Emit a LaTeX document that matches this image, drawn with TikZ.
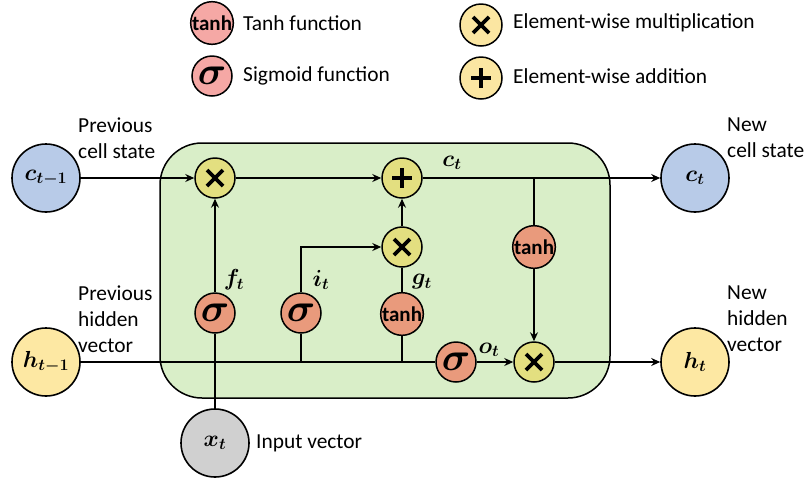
\documentclass[tikz,border=0pt]{standalone}
\usepackage{fontspec}
\setmainfont{Carlito}
\usepackage{amsmath}
\usepackage{bm}
\usetikzlibrary{arrows.meta}
\definecolor{boxgreen}{HTML}{D9EEC8}
\definecolor{cblue}{HTML}{B8CBE8}
\definecolor{hyellow}{HTML}{FDE8A3}
\definecolor{xgrey}{HTML}{D0D0D0}
\definecolor{gatered}{HTML}{E99A7C}
\definecolor{opyellow}{HTML}{E3DF80}
\definecolor{legred}{HTML}{F5A8A5}
\definecolor{legyellow}{HTML}{FBE6A2}
\tikzset{
  ln/.style={line width=1.5pt},
  arr/.style={line width=1.5pt,-{Stealth[length=9pt,width=8pt,inset=3pt]}},
  bigc/.style={circle,draw,line width=1.6pt,minimum size=68pt,inner sep=0pt,font=\fontsize{20.74}{24}\selectfont},
  gate/.style={circle,draw,line width=1.5pt,fill=gatered,minimum size=40pt,inner sep=0pt},
  op/.style={circle,draw,line width=1.5pt,fill=opyellow,minimum size=40pt,inner sep=0pt},
  mulop/.style={op,path picture={
      \draw[line width=3.6pt] ([shift={(-8,-8)}]path picture bounding box.center) -- ++(16,16);
      \draw[line width=3.6pt] ([shift={(-8,8)}]path picture bounding box.center) -- ++(16,-16);}},
  plusop/.style={op,path picture={
      \draw[line width=3.6pt] ([shift={(-10,0)}]path picture bounding box.center) -- ++(20,0);
      \draw[line width=3.6pt] ([shift={(0,-10)}]path picture bounding box.center) -- ++(0,20);}},
  lbl/.style={font=\fontsize{21.4}{26}\selectfont,align=left,anchor=west,inner sep=0pt},
  mlbl/.style={font=\fontsize{20.74}{22}\selectfont,inner sep=0pt},
}
\newcommand{\sig}{\fontsize{20.74}{22}\selectfont\scalebox{1.9}{$\bm{\sigma}$}}
\newcommand{\tnh}{\fontsize{21}{21}\selectfont\bfseries tanh}
\newcommand{\mth}[1]{\scalebox{1.12}{$\bm{#1}$}}
\begin{document}
\begin{tikzpicture}[x=1pt,y=-1pt]
\useasboundingbox (0,0) rectangle (805,483);
% legend
\node[gate,fill=legred,minimum size=39pt] (lt) at (212,23) {\tnh};
\node[lbl] (ltt) at (243,23) {Tanh function};
\node[gate,fill=legred,minimum size=40pt] (ls) at (212,76) {\sig};
\node[lbl] (lst) at (243,76) {Sigmoid function};
\node[mulop,fill=legyellow,minimum size=42pt] (lm) at (481,25) {};
\node[lbl] (lmt) at (513,23) {Element-wise multiplication};
\node[plusop,fill=legyellow,minimum size=42pt] (lp) at (481,78) {};
\node[lbl] (lpt) at (513,76) {Element-wise addition};
% cell box
\draw[line width=1.5pt,fill=boxgreen,rounded corners=42pt] (160,143) rectangle (610,398);
% outer nodes
\node[bigc,fill=cblue] (cprev) at (46,178) {\mth{c_{t-1}}};
\node[bigc,fill=hyellow] (hprev) at (46,362) {\mth{h_{t-1}}};
\node[bigc,fill=xgrey] (xt) at (215,443) {\mth{x_t}};
\node[bigc,fill=cblue] (ct) at (695,178) {\mth{c_t}};
\node[bigc,fill=hyellow] (ht) at (695,362) {\mth{h_t}};
% inner nodes
\node[mulop] (m1) at (215,178) {};
\node[plusop] (plus) at (402,178) {};
\node[mulop] (m2) at (402,247) {};
\node[gate] (tg) at (402,314) {\tnh};
\node[gate] (sf) at (215,313) {\sig};
\node[gate] (si) at (301,313) {\sig};
\node[gate] (so) at (456,362) {\sig};
\node[mulop] (m3) at (534,362) {};
\node[gate] (tc) at (534,247) {\tnh};
\coordinate (br) at (534,178);
\coordinate (hi) at (301,362);
\coordinate (hg) at (402,362);
% connectors
\draw[arr] (cprev) -- (m1);
\draw[arr] (m1) -- (plus);
\draw[arr] (plus) -- (ct);
\draw[ln] (br) -- (tc);
\draw[arr] (tc) -- (m3);
\draw[ln] (hprev) -- (so);
\draw[arr] (so) -- (m3);
\draw[arr] (m3) -- (ht);
\draw[ln] (xt) -- (sf);
\draw[arr] (sf) -- (m1);
\draw[ln] (hi) -- (si);
\draw[arr] (si) |- (m2);
\draw[ln] (hg) -- (tg);
\draw[ln] (tg) -- (m2);
\draw[arr] (m2) -- (plus);
% math labels
\node[mlbl] (lc) at (452,163) {\mth{c_t}};
\node[mlbl] (lf) at (234,280) {\mth{f_t}};
\node[mlbl] (li) at (321,280) {\mth{i_t}};
\node[mlbl] (lg) at (422,282) {\mth{g_t}};
\node[mlbl] (lo) at (489,350) {\mth{o_t}};
% text labels
\node[lbl] (t1) at (78,138) {Previous\\cell state};
\node[lbl] (t2) at (78,319) {Previous\\hidden\\vector};
\node[lbl] (t3) at (727,138) {New\\cell state};
\node[lbl] (t4) at (727,319) {New\\hidden\\vector};
\node[lbl] (t5) at (256,443) {Input vector};
\end{tikzpicture}
\end{document}
